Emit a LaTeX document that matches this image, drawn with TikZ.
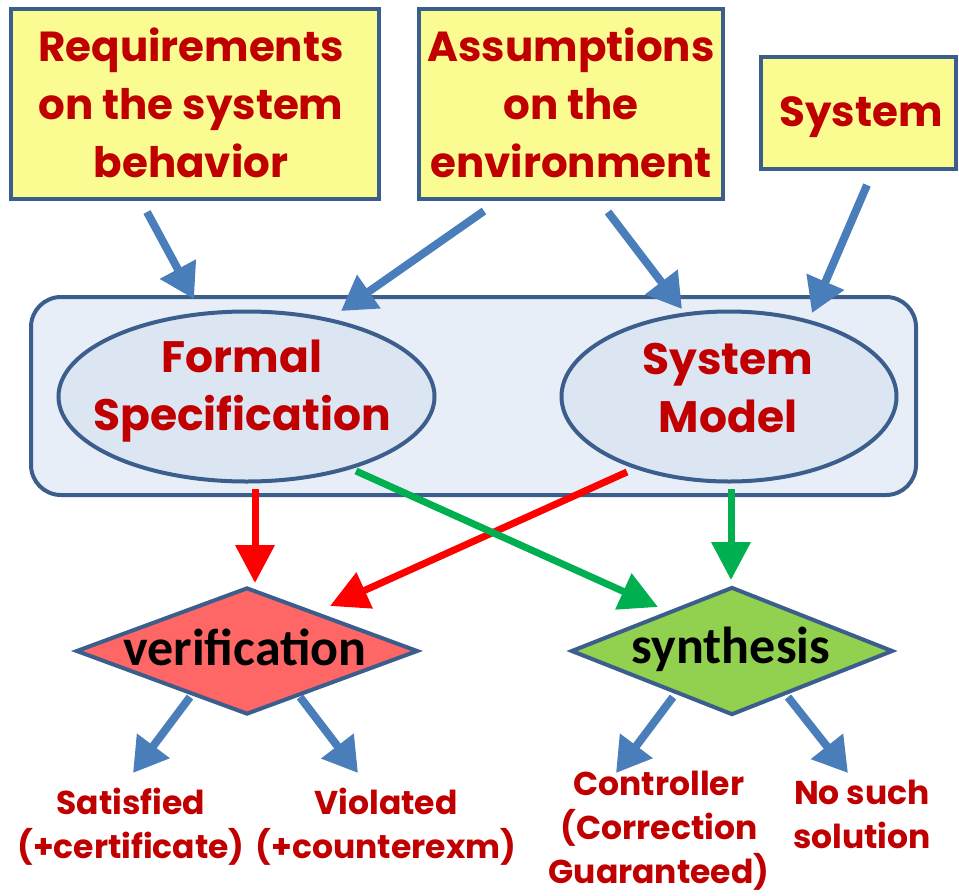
\documentclass[tikz,border=0pt]{standalone}
\usepackage{fontspec}
\setmainfont{Poppins}
\newfontfamily\calib{Carlito}
\usetikzlibrary{shapes.geometric,arrows.meta,calc}

\definecolor{edge}{HTML}{3B5E8C}
\definecolor{note}{HTML}{FAFC92}
\definecolor{panel}{HTML}{E7EEF7}
\definecolor{oval}{HTML}{DCE6F2}
\definecolor{txtred}{HTML}{C00000}
\definecolor{flowblue}{HTML}{4A7EBB}
\definecolor{vred}{HTML}{FF6666}
\definecolor{sgreen}{HTML}{92D050}
\definecolor{linkred}{HTML}{FF0000}
\definecolor{linkgreen}{HTML}{00B050}

\tikzset{
  notebox/.style={draw=edge, line width=4pt, fill=note, rectangle, inner sep=0pt},
  ovalbox/.style={draw=edge, line width=4pt, fill=oval, ellipse, inner sep=0pt},
  decision/.style={draw=edge, line width=4pt, diamond, inner sep=0pt},
  bigtxt/.style={text=txtred, font=\fontsize{44}{58}\selectfont\bfseries, align=center, inner sep=0pt},
  boxtxt/.style={bigtxt, font=\fontsize{42}{58}\selectfont\bfseries},
  smalltxt/.style={text=txtred, font=\fontsize{33}{44}\selectfont\bfseries, align=center, inner sep=0pt},
  dtxt/.style={text=black, font=\calib\fontsize{52}{60}\selectfont\bfseries, inner sep=0pt, anchor=base},
  bluearrow/.style={draw=flowblue, line width=8pt, -{Triangle[length=34pt,width=39pt]}},
  redarrow/.style={draw=linkred, line width=7pt, -{Triangle[length=38pt,width=38pt]}},
  greenarrow/.style={draw=linkgreen, line width=7pt, -{Triangle[length=38pt,width=38pt]}}
}

\begin{document}
\begin{tikzpicture}[x=1pt,y=-1pt]
\useasboundingbox (0,0) rectangle (959,895);

% input boxes
\node[notebox, minimum width=368pt, minimum height=190pt] (req) at (195,104) {};
\node[boxtxt] (reqtxt) at (191,103) {Requirements\\on the system\\behavior};
\node[notebox, minimum width=304pt, minimum height=190pt] (ass) at (571,104) {};
\node[boxtxt] (asstxt) at (571,103) {Assumptions\\on the\\environment};
\node[notebox, minimum width=195pt, minimum height=112pt] (sys) at (858,113) {};
\node[boxtxt] (systxt) at (861,117) {System};

% modelling panel
\node[draw=edge, line width=4pt, fill=panel, rounded corners=30pt, rectangle,
      minimum width=885pt, minimum height=198pt, inner sep=0pt] (panel) at (473.5,396) {};
\node[ovalbox, minimum width=376pt, minimum height=170pt] (fs) at (246.5,396.5) {};
\node[bigtxt] (fstxt) at (242,391) {Formal\\Specification};
\node[ovalbox, minimum width=335pt, minimum height=170pt] (sm) at (729,396.5) {};
\node[bigtxt] (smtxt) at (728,388) {System\\Model};

% decisions
\node[decision, fill=vred, minimum width=342pt, minimum height=127pt] (ver) at (247,651) {};
\node[dtxt] (vertxt) at (245,665) {verification};
\node[decision, fill=sgreen, minimum width=322pt, minimum height=128pt] (syn) at (732,651) {};
\node[dtxt] (syntxt) at (731,663) {synthesis};

% outcomes
\node[smalltxt] (sat) at (131,827) {Satisfied\\(+certificate)};
\node[smalltxt] (vio) at (386,827) {Violated\\(+counterexm)};
\node[smalltxt] (ctl) at (659,831) {Controller\\(Correction\\Guaranteed)};
\node[smalltxt] (nos) at (862,814) {No such\\solution};

% inputs into the models
\draw[bluearrow] ($(req)+(-48,108)$) -- ($(fs)+(-52.5,-97.5)$);
\draw[bluearrow] ($(ass)+(-87,107)$) -- ($(fs)+(94.5,-85.5)$);
\draw[bluearrow] ($(ass)+(37,108)$) -- ($(sm)+(-47,-87.5)$);
\draw[bluearrow] ($(sys)+(9,72)$) -- ($(sm)+(83,-83.5)$);

% models into verification
\draw[redarrow] ($(fs)+(8.5,92.5)$) -- ($(ver)+(8,-68)$);
\draw[redarrow] ($(sm)+(-102,75.5)$) -- ($(ver)+(83,-45)$);

% models into synthesis
\draw[greenarrow] ($(fs)+(109.5,74.5)$) -- ($(syn)+(-74,-44)$);
\draw[greenarrow] ($(sm)+(2,92.5)$) -- ($(syn)+(-1,-71)$);

% results
\draw[bluearrow] ($(ver)+(-57,46)$) -- ($(sat)+(2,-54)$);
\draw[bluearrow] ($(ver)+(53,46)$) -- ($(vio)+(-28,-54)$);
\draw[bluearrow] ($(syn)+(-59,46)$) -- ($(ctl)+(-43,-58)$);
\draw[bluearrow] ($(syn)+(56,46)$) -- ($(nos)+(-14,-41)$);
\end{tikzpicture}
\end{document}
